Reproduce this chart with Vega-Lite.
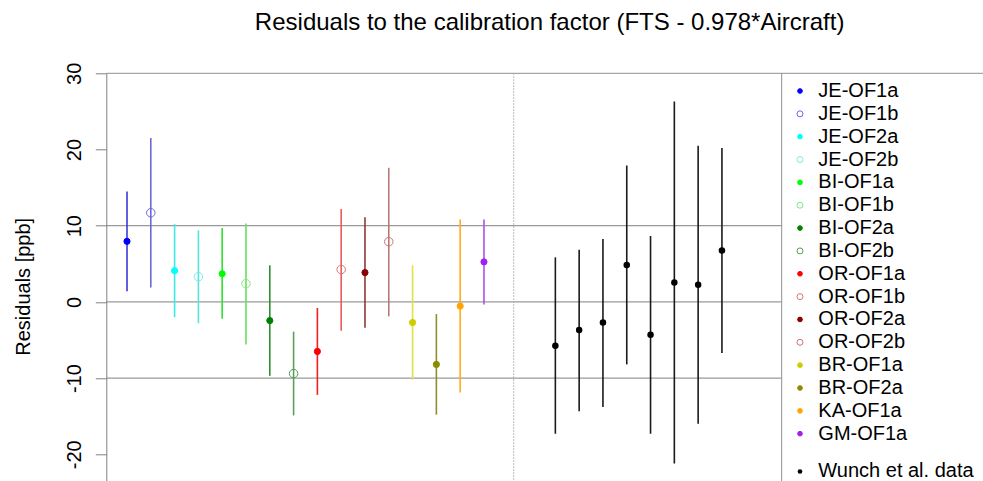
{
  "$schema": "https://vega.github.io/schema/vega-lite/v6.json",
  "width": 876.7,
  "height": 407.7,
  "autosize": {"type": "none"},
  "padding": {"left": 106.3, "top": 73.3, "right": 0, "bottom": 0},
  "background": "white",
  "title": {
    "text": "Residuals to the calibration factor (FTS - 0.978*Aircraft)",
    "fontSize": 24,
    "fontWeight": "normal",
    "color": "black",
    "frame": "group",
    "anchor": "middle",
    "baseline": "alphabetic",
    "offset": 8,
    "dx": 5
  },
  "config": {
    "font": "Liberation Sans",
    "view": {"stroke": null},
    "axisY": {
      "grid": false,
      "labelAngle": 270,
      "labelAlign": "center",
      "labelBaseline": "bottom",
      "labelFontSize": 20,
      "labelColor": "black",
      "labelPadding": 11,
      "tickSize": 11,
      "tickColor": "#808080",
      "domainColor": "#808080",
      "titleFontSize": 20,
      "titleFontWeight": "normal",
      "titleColor": "black",
      "titlePadding": 31,
      "titleY": 213
    }
  },
  "datasets": {
    "sites": [
      {"i": 1, "series": "JE-OF1a", "value": 7.95, "lo": 1.4, "hi": 14.5},
      {"i": 2, "series": "JE-OF1b", "value": 11.7, "lo": 1.9, "hi": 21.5},
      {"i": 3, "series": "JE-OF2a", "value": 4.1, "lo": -2.0, "hi": 10.2},
      {"i": 4, "series": "JE-OF2b", "value": 3.3, "lo": -2.8, "hi": 9.4},
      {"i": 5, "series": "BI-OF1a", "value": 3.7, "lo": -2.2, "hi": 9.7},
      {"i": 6, "series": "BI-OF1b", "value": 2.4, "lo": -5.6, "hi": 10.3},
      {"i": 7, "series": "BI-OF2a", "value": -2.45, "lo": -9.7, "hi": 4.8},
      {"i": 8, "series": "BI-OF2b", "value": -9.4, "lo": -14.9, "hi": -3.9},
      {"i": 9, "series": "OR-OF1a", "value": -6.5, "lo": -12.2, "hi": -0.8},
      {"i": 10, "series": "OR-OF1b", "value": 4.25, "lo": -3.8, "hi": 12.2},
      {"i": 11, "series": "OR-OF2a", "value": 3.85, "lo": -3.4, "hi": 11.1},
      {"i": 12, "series": "OR-OF2b", "value": 7.9, "lo": -1.9, "hi": 17.6},
      {"i": 13, "series": "BR-OF1a", "value": -2.7, "lo": -10.2, "hi": 4.8},
      {"i": 14, "series": "BR-OF2a", "value": -8.2, "lo": -14.8, "hi": -1.6},
      {"i": 15, "series": "KA-OF1a", "value": -0.55, "lo": -11.9, "hi": 10.8},
      {"i": 16, "series": "GM-OF1a", "value": 5.25, "lo": -0.35, "hi": 10.8}
    ],
    "wunch": [
      {"i": 19, "src": "Wunch et al. data", "value": -5.75, "lo": -17.3, "hi": 5.85},
      {"i": 20, "src": "Wunch et al. data", "value": -3.7, "lo": -14.35, "hi": 6.85},
      {"i": 21, "src": "Wunch et al. data", "value": -2.7, "lo": -13.8, "hi": 8.25},
      {"i": 22, "src": "Wunch et al. data", "value": 4.85, "lo": -8.2, "hi": 17.9},
      {"i": 23, "src": "Wunch et al. data", "value": -4.3, "lo": -17.3, "hi": 8.65},
      {"i": 24, "src": "Wunch et al. data", "value": 2.55, "lo": -21.2, "hi": 26.3},
      {"i": 25, "src": "Wunch et al. data", "value": 2.25, "lo": -16.0, "hi": 20.5},
      {"i": 26, "src": "Wunch et al. data", "value": 6.75, "lo": -6.7, "hi": 20.2}
    ],
    "levels": [{"h": 10}, {"h": 0}, {"h": -10}],
    "one": [{}],
    "wunchKey": [{"src": "Wunch et al. data"}]
  },
  "layer": [
    {
      "layer": [
        {
          "data": {"name": "levels"},
          "mark": {"type": "rule", "color": "#808080", "strokeWidth": 1},
          "encoding": {
            "y": {"field": "h", "type": "quantitative", "title": "Residuals [ppb]",
                  "scale": {"domain": [-23.5, 30], "nice": false, "zero": false},
                  "axis": {"values": [-20, -10, 0, 10, 20, 30], "labelExpr": "'' + datum.value"}},
            "x": {"datum": 0.13, "type": "quantitative", "axis": null,
                  "scale": {"domain": [0.13, 36.97], "nice": false, "zero": false}},
            "x2": {"datum": 28.51}
          }
        },
        {
          "data": {"name": "one"},
          "mark": {"type": "rule", "color": "#909090", "strokeWidth": 1},
          "encoding": {"y": {"datum": 30, "type": "quantitative", "title": "Residuals [ppb]"}}
        },
        {
          "data": {"name": "one"},
          "mark": {"type": "rule", "color": "#909090", "strokeWidth": 1},
          "encoding": {"x": {"datum": 28.51, "type": "quantitative", "axis": null}}
        },
        {
          "data": {"name": "one"},
          "mark": {"type": "rule", "color": "#a8a8a8", "strokeWidth": 1, "strokeDash": [1.5, 1.5]},
          "encoding": {"x": {"datum": 17.25, "type": "quantitative", "axis": null}}
        },
        {
          "data": {"name": "sites"},
          "mark": {"type": "rule", "strokeWidth": 1.6},
          "encoding": {
            "x": {"field": "i", "type": "quantitative", "axis": null},
            "y": {"field": "lo", "type": "quantitative", "title": "Residuals [ppb]"},
            "y2": {"field": "hi"},
            "color": {
              "field": "series", "type": "nominal", "legend": null,
              "scale": {
                "domain": ["JE-OF1a", "JE-OF1b", "JE-OF2a", "JE-OF2b", "BI-OF1a", "BI-OF1b", "BI-OF2a", "BI-OF2b", "OR-OF1a", "OR-OF1b", "OR-OF2a", "OR-OF2b", "BR-OF1a", "BR-OF2a", "KA-OF1a", "GM-OF1a"],
                "range": ["#3a3ad8", "#6a6ad6", "#3ee8e8", "#5ee0e0", "#2ee02e", "#66e066", "#2e8f2e", "#5aa05a", "#f02020", "#e85a5a", "#8e3a3a", "#b87878", "#e0e048", "#8e8e2e", "#ffab1f", "#ad4ff0"]
              }
            }
          }
        },
        {
          "data": {"name": "sites"},
          "mark": {"type": "circle", "opacity": 1, "strokeWidth": 1},
          "encoding": {
            "x": {"field": "i", "type": "quantitative", "axis": null},
            "y": {"field": "value", "type": "quantitative", "title": "Residuals [ppb]"},
            "size": {"condition": {"test": "test(/b$/, datum.series)", "value": 72}, "value": 38},
            "fill": {
              "field": "series", "type": "nominal", "legend": null,
              "scale": {
                "domain": ["JE-OF1a", "JE-OF1b", "JE-OF2a", "JE-OF2b", "BI-OF1a", "BI-OF1b", "BI-OF2a", "BI-OF2b", "OR-OF1a", "OR-OF1b", "OR-OF2a", "OR-OF2b", "BR-OF1a", "BR-OF2a", "KA-OF1a", "GM-OF1a"],
                "range": ["#0000ff", "transparent", "#00ffff", "transparent", "#00ff00", "transparent", "#008000", "transparent", "#ff0000", "transparent", "#8b0000", "transparent", "#cdcd00", "#8b8b00", "#ffa500", "#a020f0"]
              }
            },
            "stroke": {
              "field": "series", "type": "nominal", "legend": null,
              "scale": {
                "domain": ["JE-OF1a", "JE-OF1b", "JE-OF2a", "JE-OF2b", "BI-OF1a", "BI-OF1b", "BI-OF2a", "BI-OF2b", "OR-OF1a", "OR-OF1b", "OR-OF2a", "OR-OF2b", "BR-OF1a", "BR-OF2a", "KA-OF1a", "GM-OF1a"],
                "range": ["#0000ff", "#6a6ae0", "#00ffff", "#7aeaea", "#00ff00", "#80e880", "#008000", "#5a9a5a", "#ff0000", "#e07070", "#8b0000", "#c07878", "#cdcd00", "#8b8b00", "#ffa500", "#a020f0"]
              }
            }
          }
        },
        {
          "data": {"name": "wunch"},
          "mark": {"type": "rule", "color": "#1a1a1a", "strokeWidth": 1.6},
          "encoding": {
            "x": {"field": "i", "type": "quantitative", "axis": null},
            "y": {"field": "lo", "type": "quantitative", "title": "Residuals [ppb]"},
            "y2": {"field": "hi"}
          }
        },
        {
          "data": {"name": "wunch"},
          "mark": {"type": "circle", "size": 42, "opacity": 1, "color": "black"},
          "encoding": {
            "x": {"field": "i", "type": "quantitative", "axis": null},
            "y": {"field": "value", "type": "quantitative", "title": "Residuals [ppb]"}
          }
        },
        {
          "data": {"name": "wunchKey"},
          "mark": {"type": "circle", "size": 22, "opacity": 1, "color": "black"},
          "encoding": {
            "x": {"datum": 29.28, "type": "quantitative", "axis": null},
            "y": {"datum": -22.25, "type": "quantitative", "title": "Residuals [ppb]"}
          }
        },
        {
          "data": {"name": "wunchKey"},
          "mark": {"type": "text", "align": "left", "baseline": "middle", "fontSize": 20, "color": "black"},
          "encoding": {
            "x": {"datum": 30.05, "type": "quantitative", "axis": null},
            "y": {"datum": -22.25, "type": "quantitative", "title": "Residuals [ppb]"},
            "text": {"field": "src"}
          }
        }
      ]
    },
    {
      "data": {"name": "sites"},
      "encoding": {
        "y": {
          "field": "series", "type": "nominal", "axis": null,
          "scale": {
            "type": "point",
            "domain": ["JE-OF1a", "JE-OF1b", "JE-OF2a", "JE-OF2b", "BI-OF1a", "BI-OF1b", "BI-OF2a", "BI-OF2b", "OR-OF1a", "OR-OF1b", "OR-OF2a", "OR-OF2b", "BR-OF1a", "BR-OF2a", "KA-OF1a", "GM-OF1a"],
            "range": [17.7, 360.4],
            "padding": 0
          }
        }
      },
      "layer": [
        {
          "mark": {"type": "circle", "opacity": 1, "strokeWidth": 1},
          "encoding": {
            "x": {"datum": 29.28, "type": "quantitative", "axis": null},
            "size": {"condition": {"test": "test(/b$/, datum.series)", "value": 36}, "value": 22},
            "fill": {"field": "series", "type": "nominal", "legend": null},
            "stroke": {"field": "series", "type": "nominal", "legend": null}
          }
        },
        {
          "mark": {"type": "text", "align": "left", "baseline": "middle", "fontSize": 20, "color": "black"},
          "encoding": {
            "x": {"datum": 30.05, "type": "quantitative", "axis": null},
            "text": {"field": "series"}
          }
        }
      ]
    }
  ],
  "resolve": {"scale": {"y": "independent"}}
}
